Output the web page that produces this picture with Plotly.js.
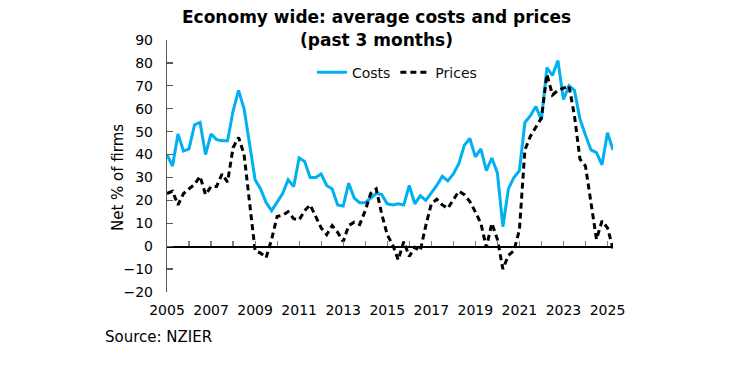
<!DOCTYPE html>
<html>
<head>
<meta charset="utf-8">
<script src="https://cdn.plot.ly/plotly-3.0.1.min.js"></script>
<style>
  html, body { margin: 0; padding: 0; background: #fff; }
  #chart { width: 737px; height: 366px; }
</style>
</head>
<body>
<div id="chart"></div>
<script>
// Quarterly data, 2005 Q1 to 2025 Q2
const startYear = 2005;
const costs = [
  40, 35, 49, 41.5, 42.5, 53, 54, 40, 49, 46.5, 46, 46,
  59, 68, 60, 44, 29, 25, 19, 15.5, 19.5, 23, 29, 26,
  38.5, 37, 30, 30, 31.5, 26.5, 25, 18, 17.5, 27.5, 21, 19,
  19, 21, 23, 22.5, 18.5, 18, 18.5, 18, 26.5, 18.5, 22, 20,
  23, 26.5, 30.5, 28.5, 31.5, 36, 44, 47, 39, 42.5, 33, 38.5,
  32, 8.5, 25, 30, 33, 54, 57, 61, 55, 78, 74.5, 81,
  64, 70, 68, 55.5, 48.5, 42, 40.8, 35.5, 49.5, 42
];
const prices = [
  23, 24, 18, 23, 25, 27, 30.5, 22.5, 26, 26, 31.5, 28,
  43, 47.5, 40, 20, -2, -3, -5, 3, 13, 13.5, 15, 12,
  11.5, 15.5, 18, 13, 8, 5, 9, 6, 2, 9, 10.5, 9.5,
  15.5, 23, 25, 14, 5, 0.5, -6, 2, -4.5, -0.5, -2, 9,
  18.5, 20.5, 18, 16.5, 20, 24, 22.5, 19.5, 15, 10, -0.5, 10,
  3, -10, -4, -2, 7, 42, 48, 52, 56, 75, 66, 68,
  69, 70, 57, 38, 35, 19, 3, 11, 8, -1
];
const yearLabels = [2005, 2007, 2009, 2011, 2013, 2015, 2017, 2019, 2021, 2023, 2025];
const seriesNames = ['Costs', 'Prices'];
const titleLines = ['Economy wide: average costs and prices', '(past 3 months)'];

const xq = costs.map((_, i) => startYear + i / 4);
const font = "'DejaVu Sans', sans-serif";

const traces = [
  {
    x: xq, y: costs, name: seriesNames[0], type: 'scatter', mode: 'lines',
    line: { color: '#00B0F0', width: 3 }
  },
  {
    x: xq, y: prices, name: seriesNames[1], type: 'scatter', mode: 'lines',
    line: { color: '#000000', width: 3, dash: '6px,4px' }
  },
  {
    x: [], y: [], xaxis: 'x2', yaxis: 'y', showlegend: false, hoverinfo: 'skip'
  }
];

const xRange = [startYear, startYear + (costs.length - 1) / 4];
const yRange = [-20, 90];

const layout = {
  width: 737, height: 366,
  margin: { l: 167, r: 124, t: 40, b: 74 },
  paper_bgcolor: '#fff', plot_bgcolor: '#fff',
  font: { family: font, size: 14, color: '#000' },
  showlegend: true,
  legend: {
    orientation: 'h', x: 0.325, y: 0.87, xanchor: 'left', yanchor: 'middle',
    font: { family: font, size: 14, color: '#111' },
    bgcolor: 'rgba(0,0,0,0)', itemwidth: 30, tracegroupgap: 0
  },
  xaxis: {
    range: xRange, tickmode: 'array', tickvals: yearLabels,
    ticktext: yearLabels.map(String),
    showline: false, showgrid: false, zeroline: false, ticks: '',
    ticklabelstandoff: 8,
    tickfont: { family: font, size: 14, color: '#000' }
  },
  xaxis2: {
    overlaying: 'x', anchor: 'free', position: (0 - yRange[0]) / (yRange[1] - yRange[0]),
    range: xRange, showline: true, linecolor: '#000', linewidth: 1.5,
    ticks: 'inside', ticklen: 5, tickcolor: '#808080', tickwidth: 1.2,
    tick0: startYear, dtick: 1, showticklabels: false, showgrid: false, zeroline: false
  },
  yaxis: {
    range: yRange, dtick: 10, tick0: 0,
    showline: true, linecolor: '#595959', linewidth: 1.2,
    ticks: 'inside', ticklen: 6, tickcolor: '#595959', tickwidth: 1.2,
    showgrid: false, zeroline: false,
    ticklabelstandoff: 10,
    tickfont: { family: font, size: 14, color: '#000' }
  },
  annotations: [
    {
      text: '<b>' + titleLines[0] + '</b>', xref: 'paper', yref: 'paper',
      x: 0.47, y: 1.091, xanchor: 'center', yanchor: 'middle', showarrow: false,
      font: { family: font, size: 17, color: '#000' }
    },
    {
      text: '<b>' + titleLines[1] + '</b>', xref: 'paper', yref: 'paper',
      x: 0.47, y: 1.0, xanchor: 'center', yanchor: 'middle', showarrow: false,
      font: { family: font, size: 17, color: '#000' }
    },
    {
      text: 'Net % of firms', xref: 'paper', yref: 'paper',
      x: -0.11, y: 0.456, xanchor: 'center', yanchor: 'middle',
      textangle: -90, showarrow: false,
      font: { family: font, size: 15, color: '#000' }
    },
    {
      text: 'Source: NZIER', xref: 'paper', yref: 'paper',
      x: -0.1435, y: -0.178, xanchor: 'left', yanchor: 'middle',
      showarrow: false,
      font: { family: font, size: 15, color: '#000' }
    }
  ]
};

Plotly.newPlot('chart', traces, layout, { staticPlot: true, displayModeBar: false });
</script>
</body>
</html>
